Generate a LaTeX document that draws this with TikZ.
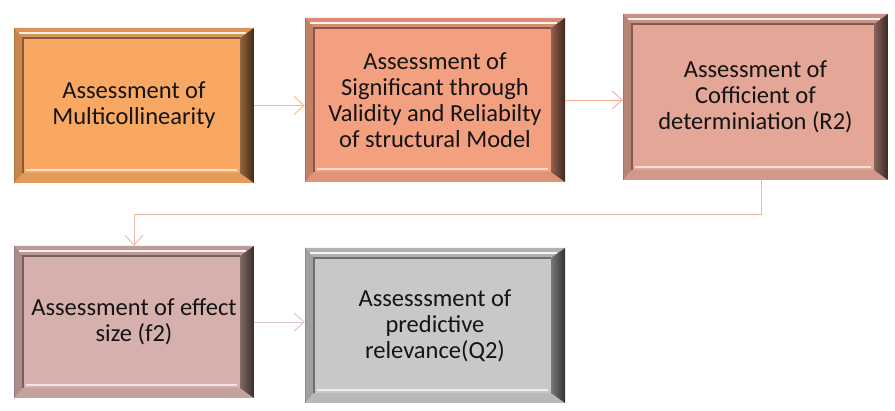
\documentclass[tikz,border=0pt]{standalone}
\usepackage{fontspec}
\setmainfont{Carlito}
\usetikzlibrary{positioning,arrows.meta}

\definecolor{stageA}{RGB}{248,168,98}
\definecolor{stageB}{RGB}{243,160,128}
\definecolor{stageC}{RGB}{228,166,150}
\definecolor{stageD}{RGB}{214,176,172}
\definecolor{stageE}{RGB}{200,200,200}

\tikzset{
  stage/.style={rectangle, fill=#1, text=black!92, align=center,
    font=\fontsize{24.5}{26}\selectfont,
    path picture={
      % outer and inner corners of the bevel
      \path (path picture bounding box.north west) coordinate (o1)
            (path picture bounding box.north east) coordinate (o2)
            (path picture bounding box.south east) coordinate (o3)
            (path picture bounding box.south west) coordinate (o4);
      \path ([shift={(9pt,-10pt)}]o1) coordinate (i1)
            ([shift={(-14pt,-10pt)}]o2) coordinate (i2)
            ([shift={(-14pt,10pt)}]o3) coordinate (i3)
            ([shift={(9pt,10pt)}]o4) coordinate (i4);
      \fill[#1!88!black] (o1) -- (o2) -- (i2) -- (i1) -- cycle;
      \fill[#1!80!black] (o1) -- (i1) -- (i4) -- (o4) -- cycle;
      \fill[#1!92!black] (o4) -- (i4) -- (i3) -- (o3) -- cycle;
      \shade[left color=#1!60!black, right color=#1!25!black]
            (o2) -- (o3) -- (i3) -- (i2) -- cycle;
      % highlights and the shadow round the face
      \draw[white!85!#1, line width=1.6pt] ([shift={(5pt,-5pt)}]o1) -- ([shift={(-8pt,-5pt)}]o2);
      \draw[white!65!#1, line width=1.6pt] ([shift={(3pt,3pt)}]i4) -- ([shift={(-3pt,3pt)}]i3);
      \draw[#1!55!black, line width=1.2pt] (i4) -- (i1) -- (i2);
      \draw[#1!70!black, line width=0.6pt] (o1) -- (o4) -- (o3);
    }},
  link/.style={draw=#1, line width=0.9pt, -{Straight Barb[length=10pt,width=18pt]}},
}

\begin{document}
\begin{tikzpicture}[x=1pt,y=-1pt,node distance=301pt,on grid]
  \useasboundingbox (0,0) rectangle (895,411);
  \node[stage=stageA, minimum width=240pt, minimum height=155pt] (m1) at (134,105.5)
       {Assessment of\\Multicollinearity};
  \node[stage=stageB, minimum width=260pt, minimum height=164pt, yshift=5.5pt] (m2) [right=of m1]
       {Assessment of\\Significant through\\Validity and Reliabilty\\of structural Model};
  \node[stage=stageC, minimum width=265pt, minimum height=166pt, yshift=3pt] (m3) [right=320.5pt of m2]
       {Assessment of\\Cofficient of\\determiniation (R2)};
  \node[stage=stageD, minimum width=240pt, minimum height=152pt] (m4) [below=216.5pt of m1]
       {Assessment of effect\\size (f2)};
  \node[stage=stageE, minimum width=260pt, minimum height=155pt, yshift=-3.5pt] (m5) [right=of m4]
       {Assesssment of\\predictive\\relevance(Q2)};

  \draw[link=stageA!80!white] (m1.east) -- (m1.east -| m2.west);
  \draw[link=stageB!85!white] (m2.east) -- (m2.east -| m3.west);
  \draw[link=stageC!80!white] ([xshift=5.5pt]m3.south) -- ++(0,-34pt) -| (m4.north);
  \draw[link=stageD!70!gray!60!white] (m4.east) -- (m4.east -| m5.west);
\end{tikzpicture}
\end{document}
